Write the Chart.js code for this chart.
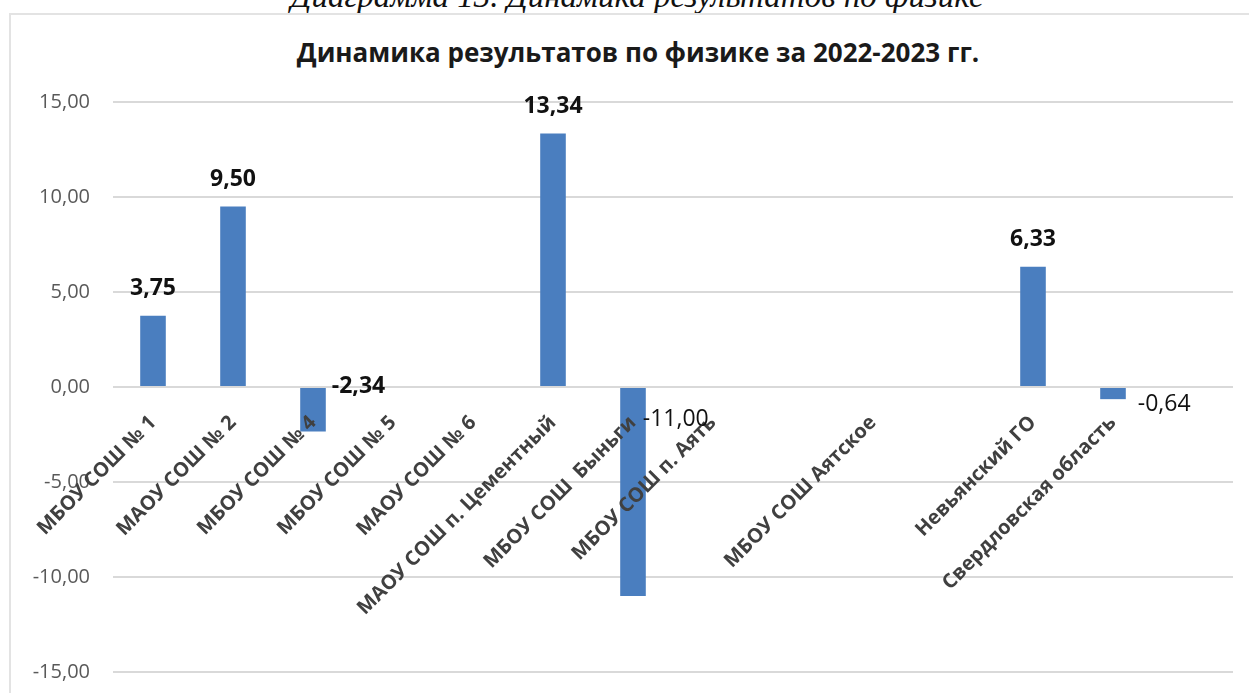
<!DOCTYPE html>
<html>
<head>
<meta charset="utf-8">
<script src="https://cdn.jsdelivr.net/npm/chart.js@4.4.0/dist/chart.umd.min.js"></script>
<style>
  html, body { margin: 0; padding: 0; background: #fff; overflow: hidden; }
  #wrap { position: relative; width: 1251px; height: 693px; }
  #caption {
    position: absolute; left: 0; top: -20px; width: 1274px; text-align: center;
    font-family: "Liberation Serif", "DejaVu Serif", serif; font-style: italic;
    font-size: 33px; line-height: 33px; color: #111; white-space: nowrap;
  }
  #frame {
    position: absolute; left: 9px; top: 13px; width: 1240px; height: 700px;
    border-top: 2px solid #e3e3e3; border-left: 2px solid #e3e3e3; box-sizing: border-box;
  }
  #title {
    position: absolute; left: 0; top: 39px; width: 1276px; text-align: center;
    font-family: "Open Sans", sans-serif; font-weight: bold; font-size: 26px;
    line-height: 26px; color: #1a1a1a; white-space: nowrap;
  }
  canvas { position: absolute; left: 0; top: 0; }
</style>
</head>
<body>
<div id="wrap">
  <div id="caption">Диаграмма 13. Динамика результатов по физике</div>
  <div id="frame"></div>
  <div id="title"></div>
  <canvas id="c" width="1251" height="693"></canvas>
</div>
<script>
// ---- data ----
const categories = [
  "МБОУ СОШ № 1",
  "МАОУ СОШ № 2",
  "МБОУ СОШ № 4",
  "МБОУ СОШ № 5",
  "МАОУ СОШ № 6",
  "МАОУ СОШ п. Цементный",
  "МБОУ СОШ  Быньги",
  "МБОУ СОШ п. Аять",
  "",
  "МБОУ СОШ Аятское",
  "",
  "Невьянский ГО",
  "Свердловская область",
  ""
];
const values = [3.75, 9.50, -2.34, null, null, 13.34, -11.00, null, null, null, null, 6.33, -0.64, null];
const yTicks = [-15, -10, -5, 0, 5, 10, 15];
const chartTitle = "Динамика результатов по физике за 2022-2023 гг.";

document.getElementById('title').textContent = chartTitle;

// ---- label styling (per-category tweaks for negative value labels) ----
const negLabelStyle = {
  2:  { dx: 6,  dy: -1, bold: true },
  6:  { dx: -3, dy: 32, bold: false },
  12: { dx: 12, dy: 17, bold: false }
};

const fmt = v => v.toFixed(2).replace('.', ',');

const valueLabels = {
  id: 'valueLabels',
  afterDraw(chart) {
    const ctx = chart.ctx;
    const meta = chart.getDatasetMeta(0);
    const yScale = chart.scales.y;
    const zero = yScale.getPixelForValue(0);
    ctx.save();
    meta.data.forEach((bar, i) => {
      const v = values[i];
      if (v === null || v === undefined) return;
      if (v >= 0) {
        ctx.font = 'bold 23px "Open Sans"';
        ctx.fillStyle = '#111';
        ctx.textAlign = 'center';
        ctx.textBaseline = 'middle';
        ctx.fillText(fmt(v), bar.x, bar.y - 27);
      } else {
        const st = negLabelStyle[i] || { dx: 4, dy: 0, bold: true };
        ctx.font = (st.bold ? 'bold ' : '') + '23px "Open Sans"';
        ctx.fillStyle = '#111';
        ctx.textAlign = 'left';
        ctx.textBaseline = 'middle';
        ctx.fillText(fmt(v), bar.x + bar.width / 2 + st.dx, zero + st.dy);
      }
    });
    ctx.restore();
  }
};

new Chart(document.getElementById('c'), {
  type: 'bar',
  data: {
    labels: categories,
    datasets: [{
      data: values,
      backgroundColor: '#4a7ebf',
      borderWidth: 0,
      categoryPercentage: 0.8,
      barPercentage: 0.4
    }]
  },
  plugins: [valueLabels],
  options: {
    responsive: false,
    animation: false,
    devicePixelRatio: 1,
    layout: { padding: { left: 0, right: 18, top: 102, bottom: 21 } },
    plugins: {
      legend: { display: false },
      tooltip: { enabled: false },
      title: { display: false }
    },
    scales: {
      x: {
        type: 'category',
        position: { y: 0 },
        grid: { display: false },
        border: { display: false },
        ticks: {
          z: 1,
          autoSkip: false,
          maxRotation: 45,
          minRotation: 45,
          padding: 16,
          color: '#404040',
          font: { family: '"Open Sans"', size: 20, weight: 'bold' }
        },
        afterFit(scale) {
          scale.height = 0;
          scale.paddingLeft = 0; scale.paddingRight = 0;
          scale.paddingTop = 0; scale.paddingBottom = 0;
        }
      },
      y: {
        min: -15,
        max: 15,
        afterBuildTicks(scale) { scale.ticks = yTicks.map(v => ({ value: v })); },
        grid: { color: '#d9d9d9', lineWidth: 2, drawTicks: false },
        border: { display: false },
        ticks: {
          padding: 23,
          color: '#595959',
          font: { family: '"Open Sans"', size: 20 },
          callback: v => fmt(v)
        },
        afterFit(scale) {
          scale.width = 113;
          scale.paddingTop = 0; scale.paddingBottom = 0;
        }
      }
    }
  }
});
</script>
</body>
</html>
